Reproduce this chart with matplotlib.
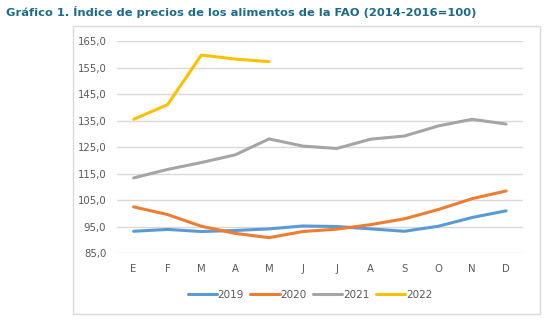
import matplotlib
matplotlib.use("Agg")
import matplotlib.pyplot as plt
from matplotlib.patches import Rectangle

months = ["E", "F", "M", "A", "M", "J", "J", "A", "S", "O", "N", "D"]
s2019 = [93.3, 94.0, 93.2, 93.6, 94.2, 95.3, 95.1, 94.2, 93.3, 95.2, 98.5, 101.0]
s2020 = [102.5, 99.6, 95.2, 92.5, 90.9, 93.2, 94.1, 95.8, 98.0, 101.5, 105.6, 108.5]
s2021 = [113.4, 116.6, 119.2, 122.1, 128.1, 125.4, 124.5, 128.0, 129.2, 133.0, 135.5, 133.7]
s2022 = [135.5, 141.0, 159.7, 158.2, 157.2]
series = [("2019", s2019, "#5B9BD5"), ("2020", s2020, "#ED7D31"),
          ("2021", s2021, "#A5A5A5"), ("2022", s2022, "#FFC000")]
yticks = [85, 95, 105, 115, 125, 135, 145, 155, 165]

W, H = 550, 326
fig = plt.figure(figsize=(5.5, 3.26), dpi=100)
fig.patch.set_facecolor("white")

# outer chart frame
fig.patches.append(Rectangle((73 / W, 1 - 314 / H), (540 - 73) / W, (314 - 26) / H,
                             transform=fig.transFigure, fill=False,
                             edgecolor="#D9D9D9", linewidth=1.0))

ax = fig.add_axes([116.7 / W, 1 - 253.3 / H, (523 - 116.7) / W, (253.3 - 41) / H])
x = list(range(len(months)))
for name, vals, col in series:
    ax.plot(x[:len(vals)], vals, color=col, linewidth=2.2, label=name,
            solid_capstyle="round", solid_joinstyle="round")

ax.set_xlim(-0.5, 11.5)
ax.set_ylim(85, 165)
ax.set_yticks(yticks)
ax.set_yticklabels([f"{v:.1f}".replace(".", ",") for v in yticks])
ax.set_xticks(x)
ax.set_xticklabels(months)
ax.grid(axis="y", color="#D9D9D9", linewidth=1.0)
ax.set_axisbelow(True)
for s in ax.spines.values():
    s.set_visible(False)
ax.tick_params(axis="both", length=0, labelsize=7.3, colors="#595959")
ax.tick_params(axis="y", pad=7.5)
ax.tick_params(axis="x", pad=8)

fig.legend(loc="center", bbox_to_anchor=(310 / W, 1 - 295 / H), ncol=4,
           frameon=False, fontsize=7.5, handlelength=2.8, handletextpad=0.1,
           columnspacing=0.6, labelcolor="#595959")

fig.text(6 / W, 1 - 12 / H, "Gráfico 1. Índice de precios de los alimentos de la FAO (2014-2016=100)",
         fontsize=8.25, fontweight="bold", color="#1B6A8A", va="center", ha="left")

fig.savefig("out.png", dpi=100)
